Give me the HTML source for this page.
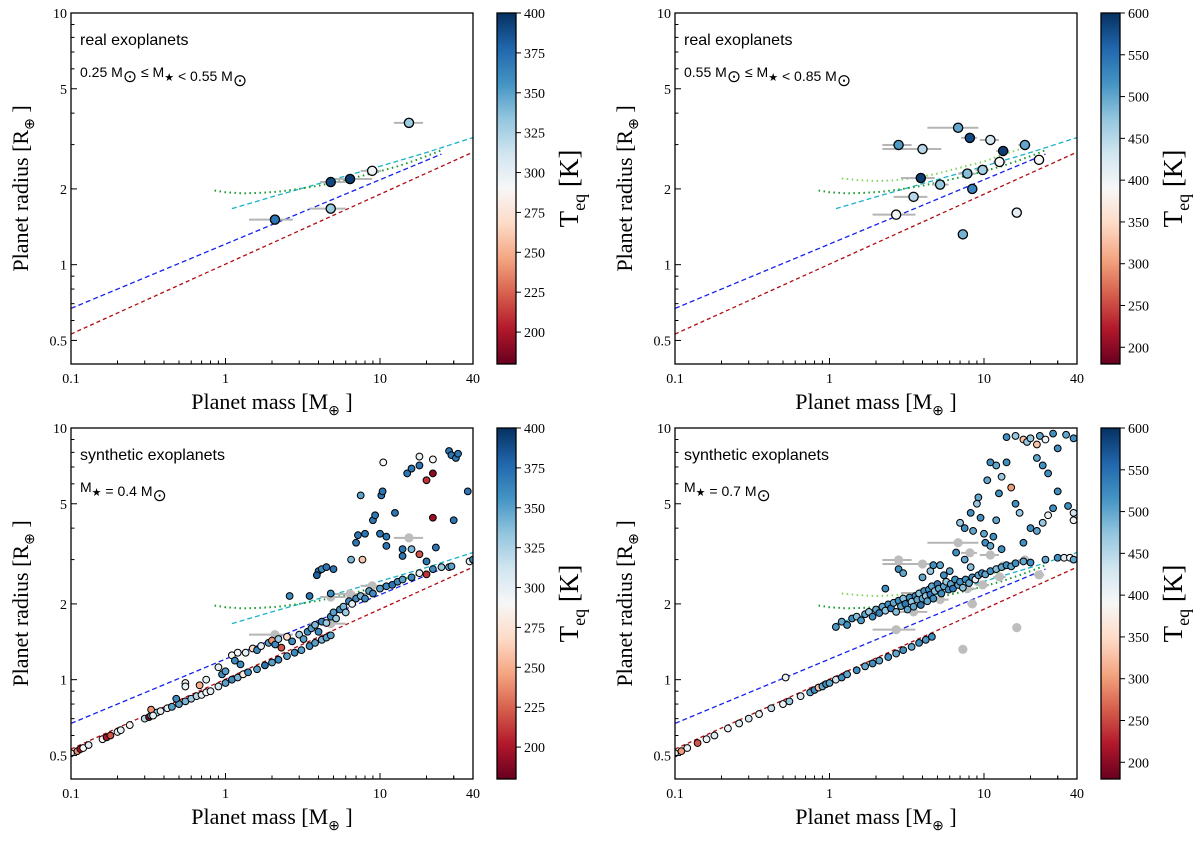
<!DOCTYPE html>
<html><head><meta charset="utf-8"><style>
body{margin:0;background:#fff}
svg text{font-family:"Liberation Serif",serif}
.sans{font-family:"Liberation Sans",sans-serif}
</style></head><body>
<svg id="fig" width="1200" height="841" viewBox="0 0 1200 841" xmlns="http://www.w3.org/2000/svg"></svg>
<script>
// ---------- data ----------
const xTicks=[0.1,1,10,40];
const xTickLabels=["0.1","1","10","40"];
const yTicks=[0.5,1,2,5,10];
const yTickLabels=["0.5","1","2","5","10"];
const cbTicksLeft=[200,225,250,275,300,325,350,375,400];
const cbTicksRight=[200,250,300,350,400,450,500,550,600];
const realLowMass=[15.4,2.09,4.8,6.4,8.9,4.8];
const realLowRad=[3.66,1.51,2.13,2.19,2.36,1.67];
const realLowTeq=[330,370,390,395,295,330];
const realLowLo=[12.3,1.42,4.1,5.2,7.5,3.5];
const realLowHi=[19.0,2.73,6.0,8.9,10.2,6.0];
const realHiMass=[6.8,8.1,11,2.8,4.0,18.4,13.3,12.6,22.7,3.9,9.8,7.8,5.2,8.4,3.5,2.7,16.3,7.3];
const realHiRad=[3.5,3.19,3.13,2.99,2.88,2.99,2.83,2.56,2.61,2.21,2.38,2.30,2.08,2.0,1.86,1.58,1.61,1.32];
const realHiTeq=[500,580,430,510,450,500,590,390,390,590,460,480,470,530,450,400,410,490];
const realHiLo=[4.3,7.1,9.4,2.2,2.2,16.7,12,11.5,21,2.9,8.8,6.8,4.6,7.8,2.6,1.9,15.5,6.9];
const realHiHi=[9.2,9.0,12.5,3.4,5.3,20,14.6,13.8,24.5,4.8,10.8,8.9,5.9,9.0,4.3,3.6,17.2,7.8];
const synALow=[[0.1,0.51,290],[0.11,0.52,240],[0.115,0.53,200],[0.12,0.535,290],[0.13,0.55,300],[0.16,0.58,290],[0.17,0.59,200],[0.18,0.6,220],[0.2,0.62,300],[0.21,0.63,300],[0.24,0.66,290],[0.3,0.7,320],[0.32,0.71,190],[0.33,0.72,340],[0.34,0.725,220],[0.36,0.74,330],[0.38,0.75,300],[0.42,0.77,300],[0.45,0.78,350],[0.5,0.8,350],[0.55,0.82,340],[0.6,0.84,330],[0.65,0.86,320],[0.7,0.87,300],[0.75,0.89,290],[0.8,0.9,300],[0.9,0.94,310],[1.0,0.97,350],[1.1,1.0,360],[1.2,1.02,340],[1.3,1.05,280],[1.4,1.07,360],[1.6,1.1,350],[1.8,1.14,370],[2.0,1.17,350],[2.2,1.2,360],[2.5,1.24,350],[2.8,1.28,360],[3.1,1.31,350],[3.5,1.36,360],[3.8,1.4,350],[4.2,1.44,340],[4.5,1.47,350],[4.8,1.5,350],
[0.33,0.76,240],[0.34,0.72,300],[0.48,0.84,360],[0.55,0.97,290],[0.55,0.94,300],[0.68,0.95,250],[0.75,1.0,300],[0.9,1.12,300],[0.95,1.05,360],[1.0,1.08,350],[1.1,1.25,290],[1.15,1.19,360],[1.2,1.28,290],[1.25,1.15,360],[1.35,1.28,300],[1.5,1.33,270],[1.6,1.31,360],[1.7,1.36,300],[1.9,1.4,350],[2.0,1.43,240],[2.1,1.38,360],[2.2,1.45,330],[2.3,1.34,220],[2.5,1.48,270],[2.7,1.42,360],[3.0,1.51,330],[3.2,1.45,350],[3.4,1.55,360],[3.6,1.6,350],[3.8,1.65,340],[4.0,1.55,360],[4.2,1.7,360],[4.5,1.68,330],[4.8,1.78,360],[5.0,1.85,350],[5.2,1.75,330],[5.5,1.9,360],[5.8,1.95,340],[6.0,1.85,330],[6.3,2.05,360],[6.6,2.0,300],[7.0,2.1,360],[7.5,2.15,340],[8.0,2.1,360],[8.5,2.25,350],[9.0,2.2,360],[10,2.3,350],[11,2.35,360],[12,2.38,370],[13,2.45,360],[14,2.5,350],[16,2.55,360],[18,2.65,300],[20,2.62,210],[22,2.75,360],[25,2.8,330],[28,2.8,340],[29,2.82,350],[38,2.95,300],[40,3.0,360],
[2.6,2.15,360],[3.5,2.15,370],[4.0,2.7,370],[4.2,2.75,360],[4.5,2.8,370],[3.9,2.6,380],[5.0,2.75,370],[4.8,2.2,360],[6.5,3.0,340],[7.7,3.0,260],[7.0,3.5,370],[7.2,3.75,370],[8.0,3.8,370],[9,4.3,370],[9.3,4.5,370],[7.5,5.4,350],[10.2,5.4,370],[10.4,5.6,370],[10,3.8,370],[11,3.7,370],[11,3.4,370],[12.5,4.6,370],[14,3.3,370],[14,3.1,370],[16,3.3,340],[18,3.15,220],[23,3.35,370],[20,2.95,370],[10.5,7.3,290],[18,7.7,300],[22,7.5,290],[15,6.6,370],[16,6.9,370],[18,7.1,370],[20,6.2,210],[22,6.6,190],[22,4.4,195],[28,8.1,370],[29,7.8,370],[31,7.6,370],[32,7.9,370],[37,5.6,370],[30,4.3,370]];
const synBHigh=[[0.1,0.51,400],[0.11,0.52,300],[0.12,0.535,400],[0.14,0.56,260],[0.16,0.58,400],[0.18,0.6,420],[0.22,0.64,400],[0.26,0.67,410],[0.3,0.7,430],[0.35,0.73,400],[0.42,0.77,440],[0.5,0.8,400],[0.55,0.82,470],[0.65,0.86,420],[0.75,0.89,500],[0.8,0.91,520],[0.85,0.93,330],[0.9,0.94,500],[0.95,0.96,520],[1.0,0.97,500],[1.1,1.0,430],[1.2,1.02,520],[1.3,1.05,500],[1.5,1.09,520],[1.7,1.13,500],[1.9,1.16,520],[2.1,1.19,500],[2.4,1.23,520],[2.7,1.27,500],[3.0,1.31,520],[3.4,1.35,500],[3.8,1.4,520],[4.2,1.44,510],[4.6,1.48,520],[0.52,1.02,400],
[1.1,1.62,510],[1.2,1.7,500],[1.3,1.65,520],[1.4,1.75,520],[1.5,1.78,480],[1.6,1.72,510],[1.7,1.82,500],[1.8,1.86,470],[1.9,1.78,520],[2.0,1.9,500],[2.1,1.84,530],[2.2,1.95,500],[2.3,1.88,470],[2.4,1.99,520],[2.5,1.92,540],[2.6,2.02,500],[2.7,1.86,480],[2.8,2.06,520],[2.9,1.96,500],[3.0,2.1,480],[3.1,2.0,540],[3.2,1.9,500],[3.3,2.12,520],[3.4,2.04,470],[3.5,1.95,500],[3.6,2.15,520],[3.7,2.08,500],[3.8,2.2,480],[3.9,1.98,540],[4.0,2.1,500],[4.1,2.25,520],[4.2,2.15,470],[4.3,2.05,500],[4.4,2.28,520],[4.5,2.18,540],[4.6,2.35,500],[4.7,2.1,520],[4.8,2.25,480],[5.0,2.4,540],[5.1,2.3,500],[5.3,2.2,520],[5.5,2.35,500],[5.7,2.45,470],[5.9,2.28,520],[6.1,2.4,500],[6.3,2.3,540],[6.5,2.5,520],[6.8,2.38,500],[7.0,2.45,520],[7.3,2.32,480],[7.6,2.5,520],[8.0,2.42,500],[8.4,2.55,520],[8.8,2.5,400],[9.2,2.6,500],[9.7,2.65,520],[10.2,2.62,500],[11,2.7,520],[12,2.75,480],[13,2.8,500],[14,2.85,520],[15,2.82,500],[16,2.9,520],[18,2.95,500],[20,2.92,520],[25,3.0,500],[30,3.05,520],[33,3.05,420],[36,3.05,390],[38,3.0,500],
[2.3,2.3,520],[2.8,2.75,520],[3.0,2.65,500],[4.0,2.55,500],[4.5,2.7,470],[4.7,2.85,520],[5.2,2.85,500],[5.5,2.6,520],[6.0,2.7,500],[6.6,3.2,520],[7.5,3.0,500],[8.2,2.8,480],[7.0,4.2,470],[7.5,4.0,520],[8.5,3.9,500],[8.2,4.6,520],[9.0,5.0,470],[9.2,5.3,500],[9.5,4.4,520],[10,3.8,500],[10.2,3.5,520],[11,3.4,500],[11.5,3.7,520],[12,4.3,500],[13,3.3,520],[10.5,6.2,500],[11,7.3,520],[12,7.1,500],[12.5,5.5,520],[13,6.4,470],[14,7.3,520],[15,5.8,300],[16,5.0,520],[17,4.6,470],[18,3.5,520],[20,4.0,520],[22,3.9,500],[24,4.2,470],[26,4.5,400],[28,4.8,520],[18,9.0,330],[19,8.8,470],[20,9.1,470],[22,8.6,330],[23,9.3,500],[25,9.0,400],[28,9.5,520],[30,8.3,520],[34,9.4,500],[38,9.1,520],[22,7.6,500],[24,7.1,520],[26,6.6,520],[30,5.6,520],[35,4.9,520],[38,4.6,430],[38,4.3,400],[14,9.2,520],[16,9.3,470]];
const redMass=[0.1,40], redRad=[0.53,2.8];
const blueMass=[0.1,25], blueRad=[0.67,2.75];
const cyanMass=[1.1,2,5,10,20,40], cyanRad=[1.67,1.86,2.18,2.46,2.79,3.2];
const greenMass=[0.85,1,1.3,1.7,2.2,3,4,5,6.5,8,10,13,17,22,25], greenRad=[1.97,1.94,1.92,1.93,1.95,2.0,2.06,2.12,2.2,2.27,2.35,2.46,2.6,2.76,2.85];
const lgreenMass=[1.2,1.5,2,2.5,3,4,5,6.5,8,10,13,16,20], lgreenRad=[2.2,2.17,2.15,2.16,2.18,2.24,2.3,2.4,2.48,2.57,2.72,2.84,2.97];
// ---------- drawing ----------
const NS="http://www.w3.org/2000/svg";
const svg=document.getElementById('fig');
function mk(tag,attrs,parent){const e=document.createElementNS(NS,tag);for(const k in attrs)e.setAttribute(k,attrs[k]);(parent||svg).appendChild(e);return e;}
const stops=[[0,'#67001f'],[0.1,'#b2182b'],[0.2,'#d6604d'],[0.3,'#f4a582'],[0.4,'#fddbc7'],[0.5,'#f7f7f7'],[0.6,'#d1e5f0'],[0.7,'#92c5de'],[0.8,'#4393c3'],[0.9,'#2166ac'],[1,'#053061']];
function hx(c){return [parseInt(c.slice(1,3),16),parseInt(c.slice(3,5),16),parseInt(c.slice(5,7),16)];}
function cmap(f){f=Math.max(0,Math.min(1,f));for(let i=1;i<stops.length;i++){if(f<=stops[i][0]){const a=stops[i-1],b=stops[i];const t=(f-a[0])/(b[0]-a[0]);const A=hx(a[1]),B=hx(b[1]);return 'rgb('+A.map((v,j)=>Math.round(v+(B[j]-v)*t)).join(',')+')';}}return stops[10][1];}
const defs=mk('defs',{});
const grad=mk('linearGradient',{id:'rdbu',x1:0,y1:1,x2:0,y2:0},defs);
stops.forEach(s=>mk('stop',{offset:s[0],'stop-color':s[1]},grad));

const W=402,H=351,XMIN=0.1,XMAX=40,YMIN=0.403,YMAX=10;
function panel(L,T,vmin,vmax,kind){
  const g=mk('g',{});
  
  
  const X=m=>L+(Math.log10(m)-Math.log10(XMIN))/(Math.log10(XMAX)-Math.log10(XMIN))*W;
  const Y=r=>T+(Math.log10(YMAX)-Math.log10(r))/(Math.log10(YMAX)-Math.log10(YMIN))*H;
  const C=t=>cmap((t-vmin)/(vmax-vmin));
  const cp=mk('clipPath',{id:'cp'+L+T},defs);mk('rect',{x:L,y:T,width:W,height:H},cp);
  const plot=mk('g',{'clip-path':'url(#cp'+L+T+')'},g);
  function curve(ms,rs,color,dash,w,name){const p=mk('polyline',{points:ms.map((m,i)=>X(m)+','+Y(rs[i])).join(' '),fill:'none',stroke:color,'stroke-width':w,'stroke-dasharray':dash},plot);}
  curve(redMass,redRad,'#b00d12','4,3',1.3,'model-line-red');
  curve(blueMass,blueRad,'#1522f0','5,3',1.3,'model-line-blue');
  curve(cyanMass,cyanRad,'#1ab3c6','5,3',1.3,'model-line-cyan');
  if(kind.indexOf('high')>=0) curve(lgreenMass,lgreenRad,'#7fd65a','1.5,3.5',2,'model-line-lightgreen');
  curve(greenMass,greenRad,'#139a2a','1.5,3.5',2,'model-line-green');
  return {g,plot,X,Y,C};
}
function realPts(P,ms,rs,ts,lo,hi,grey,sz){
  ms.forEach((m,i)=>{const e=mk('line',{x1:P.X(lo[i]),x2:P.X(hi[i]),y1:P.Y(rs[i]),y2:P.Y(rs[i]),stroke:'#b5b5b5','stroke-width':2},P.plot);
    
    });
  ms.forEach((m,i)=>{const c=mk('circle',{cx:P.X(m),cy:P.Y(rs[i]),r:sz,fill:grey?'#bdbdbd':P.C(ts[i]),stroke:grey?'none':'#000','stroke-width':1.3},P.plot);
    
    });
}
function synPts(P,arr){arr.forEach(d=>{const c=mk('circle',{cx:P.X(d[0]),cy:P.Y(d[1]),r:3.4,fill:P.C(d[2]),stroke:'#000','stroke-width':1},P.plot);
  
  });}
function axes(P,L,T,vmin,vmax,cbTicks,title,subHTML){
  const g=P.g;
  const fr=mk('rect',{x:L,y:T,width:W,height:H,fill:'none',stroke:'#000','stroke-width':1.3},g);
  
  for(let d=-1;d<=1;d++)for(let k=1;k<=9;k++){const v=k*Math.pow(10,d);if(v>XMAX)continue;const x=P.X(v);const len=k===1?6:3.5;
    mk('line',{x1:x,x2:x,y1:T+H,y2:T+H-len,stroke:'#000','stroke-width':1},g);}
  mk('line',{x1:P.X(20),x2:P.X(20),y1:T+H,y2:T+H-3.5,stroke:'#000'},g);mk('line',{x1:P.X(30),x2:P.X(30),y1:T+H,y2:T+H-3.5,stroke:'#000'},g);
  mk('line',{x1:P.X(40),x2:P.X(40),y1:T+H,y2:T+H-6,stroke:'#000'},g);
  xTicks.forEach((v,i)=>{const t=mk('text',{x:P.X(v),y:T+H+19,'text-anchor':'middle','font-size':14},g);t.textContent=xTickLabels[i];
    });
  for(let d=-1;d<=0;d++)for(let k=1;k<=9;k++){const v=k*Math.pow(10,d);if(v<YMIN)continue;const y=P.Y(v);const len=(k===1||k===5||k===2)?6:3.5;
    mk('line',{x1:L,x2:L+len,y1:y,y2:y,stroke:'#000'},g);}
  mk('line',{x1:L,x2:L+6,y1:P.Y(10),y2:P.Y(10),stroke:'#000'},g);
  yTicks.forEach((v,i)=>{const t=mk('text',{x:L-4,y:P.Y(v)+5,'text-anchor':'end','font-size':14},g);t.textContent=yTickLabels[i];
    });
  const xl=mk('text',{x:L+W/2,y:T+H+45,'text-anchor':'middle','font-size':22},g);xl.innerHTML='Planet mass [M<tspan font-size="14" dy="6">⊕</tspan><tspan dy="-6"> ]</tspan>';
  
  const yl=mk('text',{x:0,y:0,transform:'translate('+(L-43)+','+(T+H/2)+') rotate(-90)','text-anchor':'middle','font-size':22},g);yl.innerHTML='Planet radius [R<tspan font-size="14" dy="6">⊕</tspan><tspan dy="-6"> ]</tspan>';
  
  const tt=mk('text',{x:L+9,y:T+32,'font-size':16,class:'sans'},g);tt.textContent=title;
  
  const st=mk('text',{x:L+9,y:T+64,'font-size':14,class:'sans'},g);st.innerHTML=subHTML;
  
  const cx=L+426,cw=19;
  const cb=mk('rect',{x:cx,y:T,width:cw,height:H,fill:'url(#rdbu)',stroke:'#000','stroke-width':1.3},g);
  
  cbTicks.forEach(v=>{const y=T+H-(v-vmin)/(vmax-vmin)*H;mk('line',{x1:cx+cw,x2:cx+cw+5,y1:y,y2:y,stroke:'#000'},g);
    const t=mk('text',{x:cx+cw+8,y:y+5,'font-size':14},g);t.textContent=v;
    });
  const cl=mk('text',{x:0,y:0,transform:'translate('+(cx+cw+62)+','+(T+H/2)+') rotate(-90)','text-anchor':'middle','font-size':27},g);
  cl.innerHTML='T<tspan font-size="18" dy="7">eq</tspan><tspan dy="-7"> [K]</tspan>';
  
}
const sun='<tspan font-size="17" dy="5">⊙</tspan><tspan dy="-5"> </tspan>';
const star='<tspan font-size="11" dy="4">★</tspan><tspan dy="-4"></tspan>';
let P;
P=panel(71,13,180,400,'real-low');
realPts(P,realLowMass,realLowRad,realLowTeq,realLowLo,realLowHi,false,4.6);
axes(P,71,13,180,400,cbTicksLeft,'real exoplanets','0.25 M'+sun+'≤ M'+star+' &lt; 0.55 M'+sun);
P=panel(675,13,180,600,'real-high');
realPts(P,realHiMass,realHiRad,realHiTeq,realHiLo,realHiHi,false,4.6);
axes(P,675,13,180,600,cbTicksRight,'real exoplanets','0.55 M'+sun+'≤ M'+star+' &lt; 0.85 M'+sun);
P=panel(71,428,180,400,'synthetic-low');
realPts(P,realLowMass,realLowRad,realLowTeq,realLowLo,realLowHi,true,4.6);
synPts(P,synALow);
axes(P,71,428,180,400,cbTicksLeft,'synthetic exoplanets','M'+star+' = 0.4 M'+sun);
P=panel(675,428,180,600,'synthetic-high');
realPts(P,realHiMass,realHiRad,realHiTeq,realHiLo,realHiHi,true,4.6);
synPts(P,synBHigh);
axes(P,675,428,180,600,cbTicksRight,'synthetic exoplanets','M'+star+' = 0.7 M'+sun);
</script>
</body></html>
